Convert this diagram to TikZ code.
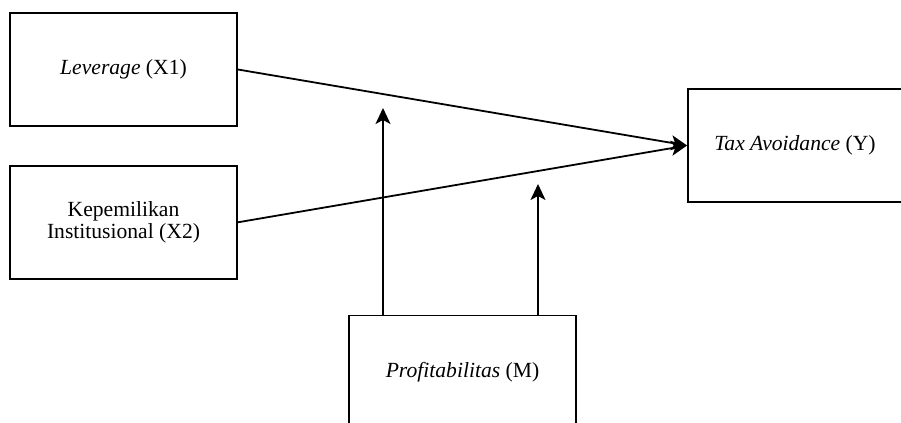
\documentclass[tikz,border=0pt]{standalone}
\usepackage{fontspec}
\setmainfont{Liberation Serif}
\usetikzlibrary{arrows.meta}
\usetikzlibrary{positioning}
\tikzset {
  model path/.style = {
    draw = black,
    line width = 0.9pt
  },
  % path style with an arrow at the end
  arr/.style = {
    model path,
    -{Stealth[length=8pt, width=7.5pt, inset=2pt]}
  }
}
\tikzset {
  % variable box
  var/.style = {
    draw = black,
    line width = 0.9pt,
    rectangle,
    minimum width = 113.5pt,
    minimum height = 56.5pt,
    inner sep = 0,
    align = center,
    font = \fontsize{10.8}{10.6}\selectfont
  },
  node distance = 19pt
}

\begin{document}
\begin{tikzpicture}[x=0.5pt, y=-0.5pt]
    \useasboundingbox (0,0) rectangle (901,423);

    \node[var] (lev) at (123.5,69.5) {\textit{Leverage} (X1)};
    \node[var] (kep) [below=of lev] {Kepemilikan\\Institusional (X2)};
    \node[var, minimum width=107pt] (tax) at (795,145.5) {\textit{Tax Avoidance} (Y)};
    \node[var] (prof) at (462.5,372) {\textit{Profitabilitas} (M)};

    % ends of the moderating arrows
    \coordinate (mod-a) at (383,108);
    \coordinate (mod-b) at (538,184);

    \draw[arr] (lev.east) -- (tax.west);
    \draw[arr] (kep.east) -- (tax.west);

    \draw[arr] (prof.north -| mod-a) -- (mod-a);
    \draw[arr] (prof.north -| mod-b) -- (mod-b);
  \end{tikzpicture}
\end{document}
